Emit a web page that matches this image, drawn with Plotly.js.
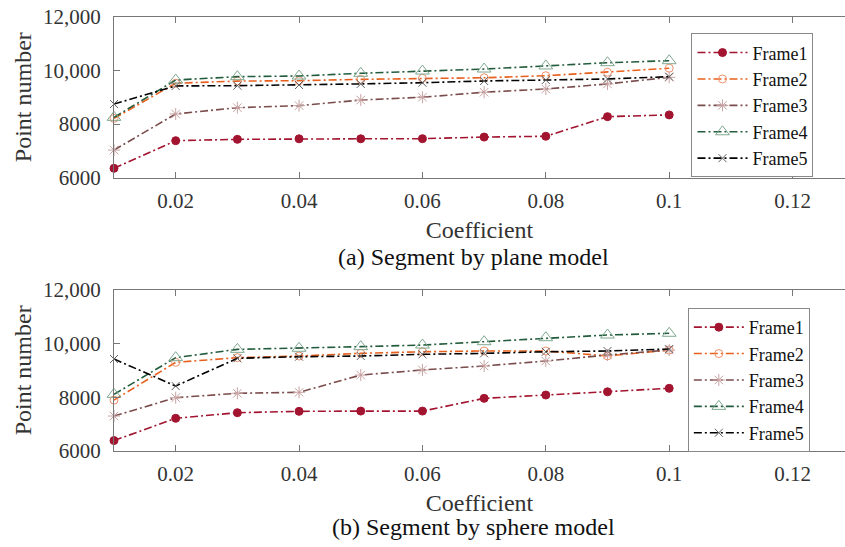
<!DOCTYPE html>
<html>
<head>
<meta charset="utf-8">
<script src="https://cdn.plot.ly/plotly-3.0.1.min.js"></script>
<style>html,body{margin:0;padding:0;background:#fff;}#chart{width:845px;height:547px;}</style>
</head>
<body>
<div id="chart"></div>
<script>
// ---- data ----
const coefficient = [0.01, 0.02, 0.03, 0.04, 0.05, 0.06, 0.07, 0.08, 0.09, 0.1];
const frameNames = ["Frame1", "Frame2", "Frame3", "Frame4", "Frame5"];

const planeFrame1 = [6350, 7380, 7430, 7450, 7450, 7455, 7515, 7545, 8275, 8340];
const planeFrame2 = [8210, 9520, 9600, 9615, 9665, 9705, 9725, 9800, 9930, 10080];
const planeFrame3 = [7030, 8375, 8610, 8685, 8895, 9000, 9185, 9305, 9495, 9740];
const planeFrame4 = [8250, 9640, 9765, 9790, 9890, 9975, 10050, 10165, 10285, 10360];
const planeFrame5 = [8745, 9420, 9430, 9455, 9495, 9540, 9605, 9640, 9680, 9765];

const sphereFrame1 = [6380, 7210, 7420, 7470, 7480, 7480, 7955, 8080, 8200, 8330];
const sphereFrame2 = [7890, 9300, 9475, 9535, 9635, 9695, 9725, 9725, 9540, 9760];
const sphereFrame3 = [7295, 7980, 8145, 8180, 8825, 9015, 9165, 9350, 9575, 9760];
const sphereFrame4 = [8105, 9475, 9785, 9825, 9885, 9945, 10070, 10220, 10320, 10385];
const sphereFrame5 = [9425, 8415, 9450, 9510, 9535, 9600, 9635, 9695, 9725, 9800];

const xTickVals = [0.02, 0.04, 0.06, 0.08, 0.1, 0.12];
const xTickText = ["0.02", "0.04", "0.06", "0.08", "0.1", "0.12"];
const yTickVals = [6000, 8000, 10000, 12000];
const yTickText = ["6000", "8000", "10,000", "12,000"];

const xTitle = "Coefficient";
const yTitle = "Point number";
const captionA = "(a) Segment by plane model";
const captionB = "(b) Segment by sphere model";

// ---- styles ----
const FONT = "Liberation Serif, Times New Roman, serif";
const DASH = "8px,3px,2px,3px";
const styles = [
  {line: "#A2142F", sym: "circle", mcol: "#A2142F", mline: "#A2142F", size: 8},
  {line: "#E8601C", sym: "circle-open", mcol: "#F0906A", mline: "#F0906A", size: 8},
  {line: "#7A4C4C", sym: "asterisk-open", mcol: "#C9A3A3", mline: "#C9A3A3", size: 10},
  {line: "#235C3C", sym: "triangle-up-open", mcol: "#7FA890", mline: "#7FA890", size: 12},
  {line: "#000000", sym: "x-thin-open", mcol: "#606060", mline: "#606060", size: 8}
];

const planeSeries = [planeFrame1, planeFrame2, planeFrame3, planeFrame4, planeFrame5];
const sphereSeries = [sphereFrame1, sphereFrame2, sphereFrame3, sphereFrame4, sphereFrame5];

function mk(ys, i, xa, ya, leg) {
  const s = styles[i];
  return {
    x: coefficient, y: ys, type: "scatter", mode: "lines+markers",
    name: frameNames[i], xaxis: xa, yaxis: ya, legend: leg,
    cliponaxis: false,
    line: {color: s.line, width: 1.6, dash: DASH},
    marker: {symbol: s.sym, size: s.size, color: s.mcol, line: {color: s.mline, width: 1}}
  };
}

const traces = [];
planeSeries.forEach((ys, i) => traces.push(mk(ys, i, "x", "y", "legend")));
sphereSeries.forEach((ys, i) => traces.push(mk(ys, i, "x2", "y2", "legend2")));

const xRange = [0.01, 0.1285];
function xax(anchor) {
  return {
    range: xRange, domain: [0, 1], anchor: anchor,
    tickvals: xTickVals, ticktext: xTickText,
    ticks: "inside", ticklen: 6, tickcolor: "#777", tickwidth: 1,
    showline: true, linecolor: "#777", linewidth: 1, mirror: "ticks",
    showgrid: false, zeroline: false,
    ticklabelstandoff: 4,
    tickfont: {family: FONT, size: 21, color: "#333"},
    title: {text: xTitle, font: {family: FONT, size: 24, color: "#333"}, standoff: 9}
  };
}
function yax(anchor, dom) {
  return {
    range: [6000, 12000], domain: dom, anchor: anchor,
    tickvals: yTickVals, ticktext: yTickText,
    ticks: "inside", ticklen: 6, tickcolor: "#777", tickwidth: 1,
    showline: true, linecolor: "#777", linewidth: 1, mirror: false,
    showgrid: false, zeroline: false,
    ticklabelstandoff: 8,
    tickfont: {family: FONT, size: 21, color: "#333"},
    title: {text: yTitle, font: {family: FONT, size: 24, color: "#333"}, standoff: 4}
  };
}

const legendStyle = {
  bgcolor: "#fff", bordercolor: "#888", borderwidth: 1,
  font: {family: FONT, size: 18, color: "#111"},
  xanchor: "left", yanchor: "top", tracegroupgap: 0, itemwidth: 50
};

const layout = {
  width: 845, height: 547,
  margin: {l: 114, r: 0, t: 0, b: 0, pad: 0},
  paper_bgcolor: "#fff", plot_bgcolor: "#fff",
  font: {family: FONT},
  showlegend: true,
  xaxis: xax("y"),
  yaxis: yax("x", [0.6751, 0.9695]),
  xaxis2: xax("y2"),
  yaxis2: yax("x2", [0.1760, 0.4698]),
  legend: Object.assign({x: 0.790, y: 0.939}, legendStyle),
  legend2: Object.assign({x: 0.785, y: 0.437}, legendStyle),
  annotations: [
    {text: captionA, xref: "paper", yref: "paper", x: (473 - 114) / 731, y: 1 - 257 / 547,
     xanchor: "center", yanchor: "middle", showarrow: false,
     font: {family: FONT, size: 24, color: "#111"}},
    {text: captionB, xref: "paper", yref: "paper", x: (473 - 114) / 731, y: 1 - 527 / 547,
     xanchor: "center", yanchor: "middle", showarrow: false,
     font: {family: FONT, size: 24, color: "#111"}}
  ]
};

Plotly.newPlot("chart", traces, layout, {displayModeBar: false, staticPlot: true});
</script>
</body>
</html>
